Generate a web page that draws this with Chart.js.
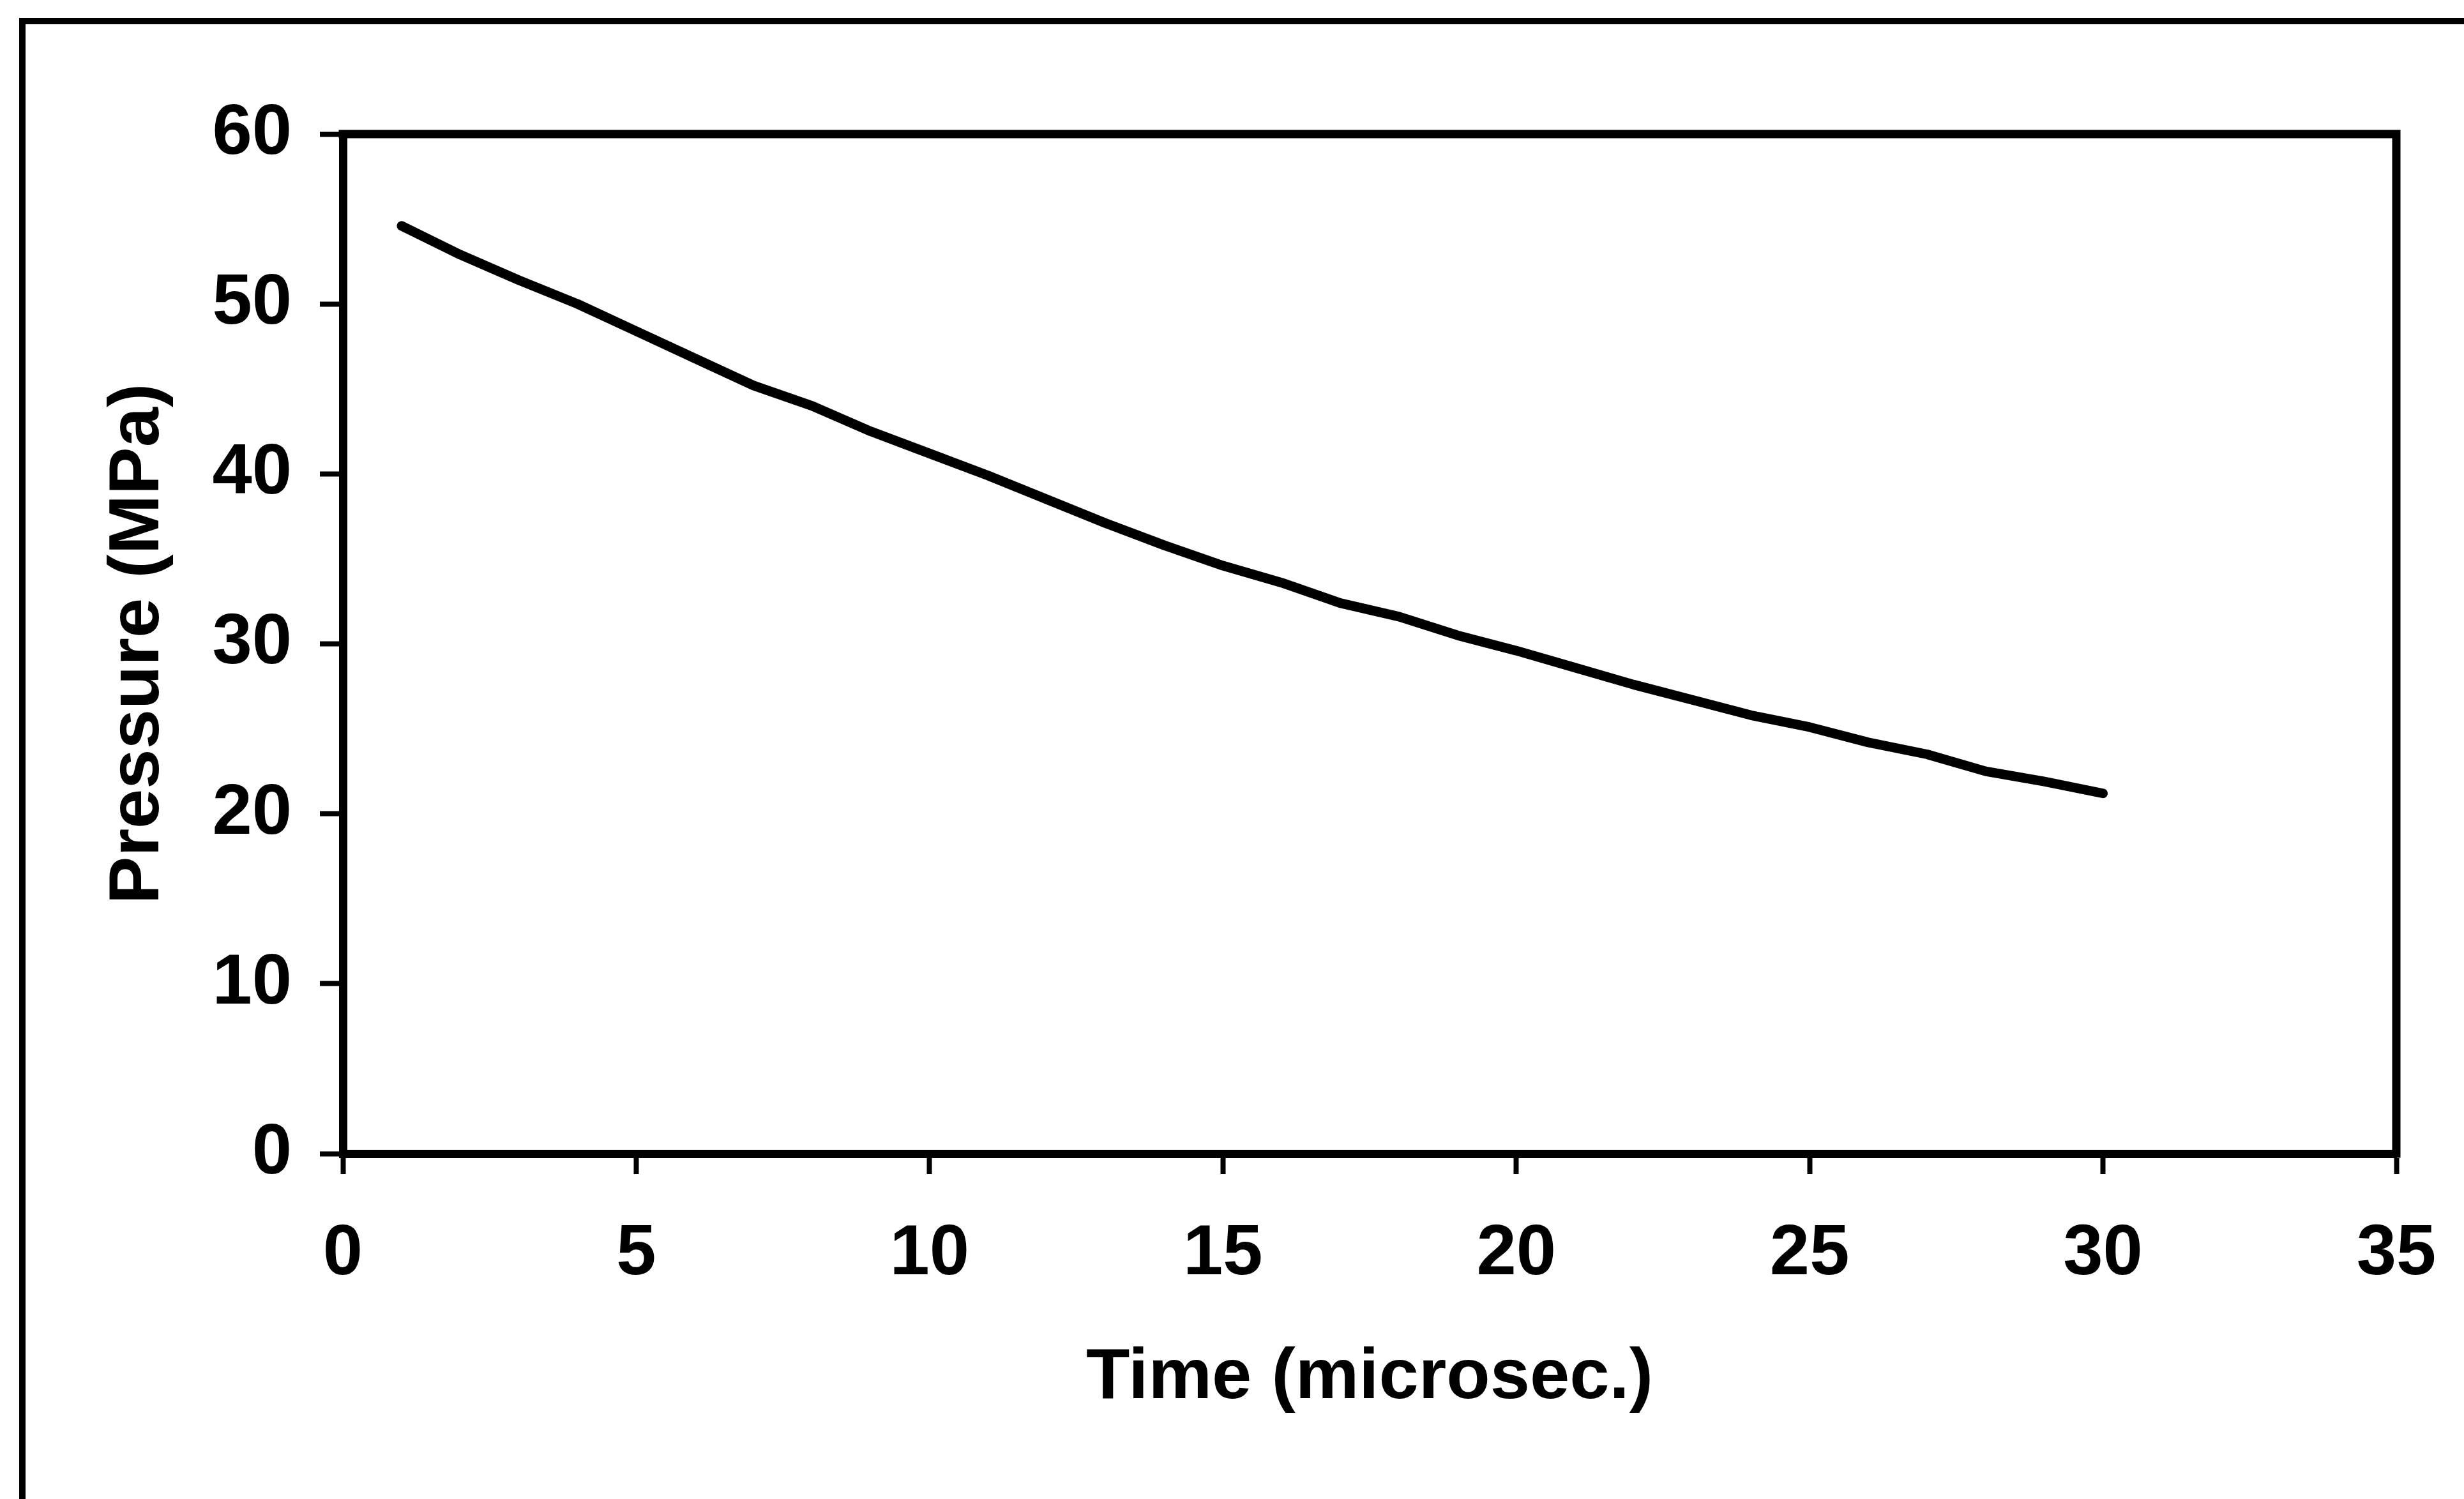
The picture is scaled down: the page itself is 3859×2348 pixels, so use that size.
<!DOCTYPE html>
<html>
<head>
<meta charset="utf-8">
<title>Pressure vs Time</title>
<script src="https://cdn.jsdelivr.net/npm/chart.js"></script>
<style>
  html, body { margin: 0; padding: 0; background: #fff; }
  canvas { display: block; }
</style>
</head>
<body>
<canvas id="chart" width="3859" height="2348"></canvas>
<script>
  // time (microsec.) and pressure (MPa) samples of the decay curve
  const timeUs = [1, 2, 3, 4, 5, 6, 7, 8, 9, 10, 11, 12, 13, 14, 15,
    16, 17, 18, 19, 20, 21, 22, 23, 24, 25, 26, 27, 28, 29, 30];
  const pressureMPa = [54.6, 52.9, 51.4, 50.0, 48.4, 46.8, 45.2, 44.0, 42.5, 41.2,
    39.9, 38.5, 37.1, 35.8, 34.6, 33.6, 32.4, 31.6, 30.5, 29.6,
    28.6, 27.6, 26.7, 25.8, 25.1, 24.2, 23.5, 22.5, 21.9, 21.2];

  const xTicks = [0, 5, 10, 15, 20, 25, 30, 35];
  const yTicks = [0, 10, 20, 30, 40, 50, 60];
  const xTitle = 'Time (microsec.)';
  const yTitle = 'Pressure (MPa)';

  const FONT = "'Liberation Sans', Arial, sans-serif";
  const AXIS_W = 13;

  // outer frame (only top and left edges fall inside the page) + closed plot box
  const framePlugin = {
    id: 'frame',
    beforeDraw(chart) {
      const ctx = chart.ctx;
      ctx.save();
      ctx.fillStyle = '#fff';
      ctx.fillRect(0, 0, chart.width, chart.height);
      ctx.strokeStyle = '#000';
      ctx.lineWidth = 10;
      ctx.beginPath();
      ctx.moveTo(chart.width + 10, 33);
      ctx.lineTo(35, 33);
      ctx.lineTo(35, chart.height + 10);
      ctx.stroke();
      ctx.restore();
    },
    afterDraw(chart) {
      const { ctx, chartArea: a } = chart;
      ctx.save();
      ctx.strokeStyle = '#000';
      ctx.lineWidth = AXIS_W;
      ctx.lineCap = 'square';
      ctx.beginPath();
      ctx.moveTo(a.left, a.top);
      ctx.lineTo(a.right, a.top);
      ctx.lineTo(a.right, a.bottom);
      ctx.stroke();
      ctx.restore();
    }
  };

  const points = timeUs.map((t, i) => ({ x: t, y: pressureMPa[i] }));

  new Chart(document.getElementById('chart').getContext('2d'), {
    type: 'line',
    data: {
      datasets: [{
        data: points,
        borderColor: '#000',
        borderWidth: 15,
        borderCapStyle: 'round',
        borderJoinStyle: 'round',
        pointRadius: 0,
        tension: 0,
        fill: false
      }]
    },
    options: {
      responsive: false,
      animation: false,
      devicePixelRatio: 1,
      layout: { padding: { top: 210, right: 106, left: 0, bottom: 0 } },
      plugins: {
        legend: { display: false },
        tooltip: { enabled: false }
      },
      scales: {
        x: {
          type: 'linear',
          min: 0,
          max: 35,
          afterBuildTicks(scale) {
            scale.ticks = xTicks.map(v => ({ value: v }));
          },
          afterFit(scale) {
            scale.height = 541;
            // the end labels fit inside the padding already
            scale.paddingLeft = 0;
            scale.paddingRight = 0;
          },
          border: { display: true, color: '#000', width: AXIS_W },
          grid: {
            drawOnChartArea: false,
            drawTicks: true,
            tickLength: 32,
            tickWidth: 8,
            tickColor: '#000'
          },
          ticks: {
            color: '#000',
            padding: 59,
            maxRotation: 0,
            font: { family: FONT, size: 112, weight: 'bold', lineHeight: 1.2 }
          },
          title: {
            display: true,
            text: xTitle,
            color: '#000',
            padding: { top: 0, bottom: 122 },
            font: { family: FONT, size: 112, weight: 'bold', lineHeight: 1.2 }
          }
        },
        y: {
          min: 0,
          max: 60,
          afterBuildTicks(scale) {
            scale.ticks = yTicks.map(v => ({ value: v }));
          },
          afterFit(scale) {
            scale.width = 537;
            scale.paddingTop = 0;
            scale.paddingBottom = 0;
          },
          border: { display: true, color: '#000', width: AXIS_W },
          grid: {
            drawOnChartArea: false,
            drawTicks: true,
            tickLength: 36,
            tickWidth: 8,
            tickColor: '#000'
          },
          ticks: {
            color: '#000',
            padding: 44,
            font: { family: FONT, size: 112, weight: 'bold', lineHeight: 1.2 }
          },
          title: {
            display: true,
            text: yTitle,
            color: '#000',
            padding: { top: 150, bottom: 0 },
            font: { family: FONT, size: 112, weight: 'bold', lineHeight: 1.2 }
          }
        }
      }
    },
    plugins: [framePlugin]
  });
</script>
</body>
</html>
